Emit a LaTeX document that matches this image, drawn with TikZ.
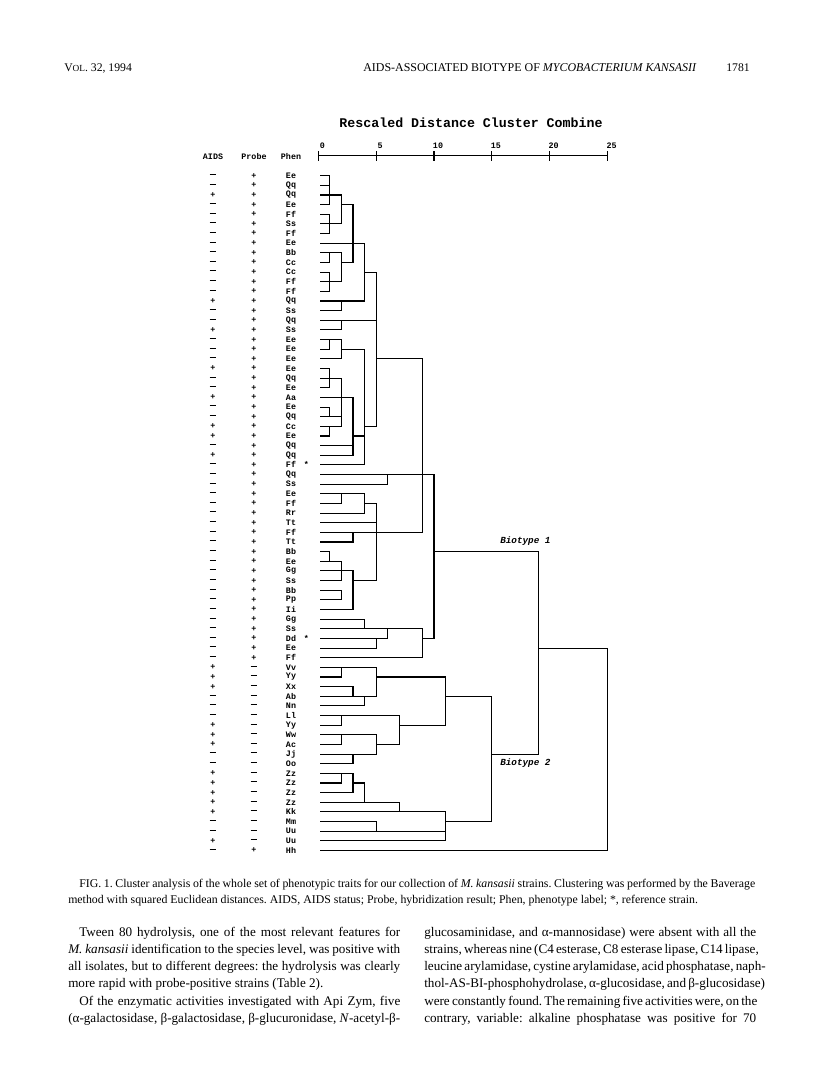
\documentclass[tikz,border=0pt]{standalone}
\usepackage{fontspec}
\setmainfont{Liberation Serif}
\newfontfamily\cour{Liberation Mono}
\usetikzlibrary{positioning}
\frenchspacing

% row and scale positions (picture units are pixels of the page)
\newcommand{\RY}[1]{(175.7+9.64*((#1)-1))}
\newcommand{\UX}[1]{(318.3+11.57*(#1))}
\newcommand{\mn}{\rule[1.7pt]{5.2pt}{0.75pt}}
\newcommand{\sg}[1]{\if#1m\mn\else+\fi}

\begin{document}
\begin{tikzpicture}[x=0.75bp, y=-0.75bp,
		tree/.style={line width=0.8pt, line cap=rect},
		rowtxt/.style={font=\cour\bfseries\fontsize{6.3}{7}\selectfont, inner sep=0pt},
		headtxt/.style={font=\cour\bfseries\fontsize{6.3}{7}\selectfont, inner sep=0pt},
		titletxt/.style={font=\cour\bfseries\fontsize{10}{12}\selectfont, inner sep=0pt},
		biotxt/.style={font=\cour\bfseries\itshape\fontsize{7}{8}\selectfont, inner sep=0pt, anchor=west},
		bodytxt/.style={font=\fontsize{9.9}{12}\selectfont, inner sep=0pt, anchor=base west},
		captxt/.style={font=\fontsize{8.9}{10}\selectfont, inner sep=0pt, anchor=base west}
		]
		\useasboundingbox[fill=white] (0,0) rectangle (816,1087);
		% Running head
		\node[bodytxt, font=\fontsize{8.8}{10}\selectfont] (volno) at (64,72) {V{\fontsize{7}{8}\selectfont OL}. 32, 1994};
		\node[bodytxt, font=\fontsize{9}{10}\selectfont] (runhead) at (363,72) {AIDS-ASSOCIATED BIOTYPE OF \textit{MYCOBACTERIUM KANSASII}};
		\node[bodytxt, font=\fontsize{8.8}{10}\selectfont, anchor=base east] (pageno) at (750,72) {1781};
		% Title and scale
		\node[titletxt] (title) at (471,123) {Rescaled Distance Cluster Combine};
		\draw[tree] ({\UX{0}},155.7) -- ({\UX{25}},155.7);
		\foreach \t in {0,5,...,25} {
			\draw[tree] ({\UX{\t}},151.5) -- ({\UX{\t}},160);
			\node[headtxt] (tick\t) at ({\UX{\t}+4},146) {\t};
		}
		\node[headtxt] (haids) at (213,157) {AIDS};
		\node[headtxt] (hprobe) at (254,157) {Probe};
		\node[headtxt] (hphen) at (291,157) {Phen};
		% Rows: AIDS / Probe / Phen
		\foreach \r/\a/\p/\ph in {1/m/p/Ee, 2/m/p/Qq, 3/p/p/Qq, 4/m/p/Ee, 5/m/p/Ff, 6/m/p/Ss, 7/m/p/Ff,
			8/m/p/Ee, 9/m/p/Bb, 10/m/p/Cc, 11/m/p/Cc, 12/m/p/Ff, 13/m/p/Ff, 14/p/p/Qq, 15/m/p/Ss,
			16/m/p/Qq, 17/p/p/Ss, 18/m/p/Ee, 19/m/p/Ee, 20/m/p/Ee, 21/p/p/Ee, 22/m/p/Qq, 23/m/p/Ee,
			24/p/p/Aa, 25/m/p/Ee, 26/m/p/Qq, 27/p/p/Cc, 28/p/p/Ee, 29/m/p/Qq, 30/p/p/Qq, 31/m/p/Ff,
			32/m/p/Qq, 33/m/p/Ss, 34/m/p/Ee, 35/m/p/Ff, 36/m/p/Rr, 37/m/p/Tt, 38/m/p/Ff, 39/m/p/Tt,
			40/m/p/Bb, 41/m/p/Ee, 42/m/p/Gg, 43/m/p/Ss, 44/m/p/Bb, 45/m/p/Pp, 46/m/p/Ii, 47/m/p/Gg,
			48/m/p/Ss, 49/m/p/Dd, 50/m/p/Ee, 51/m/p/Ff, 52/p/m/Vv, 53/p/m/Yy, 54/p/m/Xx, 55/m/m/Ab,
			56/m/m/Nn, 57/m/m/Ll, 58/p/m/Yy, 59/p/m/Ww, 60/p/m/Ac, 61/m/m/Jj, 62/m/m/Oo, 63/p/m/Zz,
			64/p/m/Zz, 65/p/m/Zz, 66/p/m/Zz, 67/p/m/Kk, 68/m/m/Mm, 69/m/m/Uu, 70/p/m/Uu, 71/m/p/Hh} {
			\node[rowtxt] (aids\r) at (213,{\RY{\r}}) {\sg{\a}};
			\node[rowtxt] (probe\r) at (254,{\RY{\r}}) {\sg{\p}};
			\node[rowtxt] (phen\r) at (291,{\RY{\r}}) {\ph};
		}
		% Reference strains
		\node[rowtxt] (ref31) at (306.5,{\RY{31}}) {*};
		\node[rowtxt] (ref49) at (306.5,{\RY{49}}) {*};
		% Leaves: row / unit where the line ends
		\foreach \r/\e in {1/1, 2/1, 3/2, 4/1, 5/1, 6/2, 7/1, 8/4, 9/2, 10/1, 11/1, 12/2, 13/1,
			14/4, 15/2, 16/5, 17/2, 18/2, 19/1, 20/2, 21/1, 22/2, 23/1, 24/3, 25/1, 26/2, 27/2,
			28/1, 29/3, 30/3, 31/4, 32/10, 33/6, 34/4, 35/2, 36/4, 37/5, 38/9, 39/3, 40/1, 41/2,
			42/3, 43/2, 44/2, 45/2, 46/3, 47/4, 48/9, 49/6, 50/5, 51/9, 52/5, 53/2, 54/3, 55/5,
			56/4, 57/7, 58/2, 59/5, 60/2, 61/5, 62/3, 63/3, 64/2, 65/3, 66/4, 67/7, 68/5, 69/11,
			70/11, 71/25} {
			\draw[tree] (321,{\RY{\r}}) -- ({\UX{\e}},{\RY{\r}});
		}
		% Merged clusters carried on to the next level
		\foreach \r/\f/\t in {4/2/3, 10/2/3, 11/4/5, 19/2/4, 20/5/9, 27/4/5, 28/3/4, 35/4/5,
			40/10/19, 43/3/5, 49/9/10, 50/19/25, 53/5/11, 55/11/15, 58/7/11, 60/5/7, 61/15/19,
			64/3/4, 66/4/7, 67/7/11, 68/11/15} {
			\draw[tree] ({\UX{\f}},{\RY{\r}}) -- ({\UX{\t}},{\RY{\r}});
		}
		% Joins: unit / first row / last row
		\foreach \u/\a/\b in {1/1/4, 1/5/7, 2/3/6, 1/9/10, 1/11/13, 2/9/12, 3/4/10, 2/14/15,
			4/8/14, 2/16/17, 1/18/19, 2/18/20, 1/21/23, 1/25/26, 1/27/28, 2/22/27, 3/24/30,
			4/19/31, 5/11/27, 9/20/38, 6/32/33, 2/34/35, 4/34/36, 5/35/43, 3/38/39, 1/40/41,
			2/41/43, 3/42/46, 2/44/45, 4/47/48, 5/49/50, 6/48/49, 9/48/51, 10/32/49, 19/40/61,
			25/50/71, 2/52/53, 3/54/55, 4/55/56, 5/52/55, 11/53/58, 2/57/58, 2/59/60, 3/61/62,
			5/59/61, 7/57/60, 15/55/68, 2/63/64, 3/63/65, 4/64/66, 7/66/67, 5/68/69, 11/67/70} {
			\draw[tree] ({\UX{\u}},{\RY{\a}}) -- ({\UX{\u}},{\RY{\b}});
		}
		\node[biotxt] (bio1) at (500,541) {Biotype 1};
		\node[biotxt] (bio2) at (500,763) {Biotype 2};
		% Caption
		\node[captxt] (cap1) at (79,887) {\makebox[507bp][s]{FIG. 1. Cluster analysis of the whole set of phenotypic traits for our collection of \textit{M. kansasii} strains. Clustering was performed by the Baverage}};
		\node[captxt] (cap2) at (68,903) {method with squared Euclidean distances. AIDS, AIDS status; Probe, hybridization result; Phen, phenotype label; *, reference strain.};
		% Body text, left column
		\node[bodytxt] (la) at (79,936) {\makebox[240.8bp][s]{Tween 80 hydrolysis, one of the most relevant features for}};
		\node[bodytxt] (lb) at (68,953) {\makebox[249bp][s]{\textit{M. kansasii} identification to the species level, was positive with}};
		\node[bodytxt] (lc) at (68,970) {\makebox[249bp][s]{all isolates, but to different degrees: the hydrolysis was clearly}};
		\node[bodytxt] (ld) at (68,987) {more rapid with probe-positive strains (Table 2).};
		\node[bodytxt] (le) at (79,1005) {\makebox[240.8bp][s]{Of the enzymatic activities investigated with Api Zym, five}};
		\node[bodytxt] (lf) at (68,1022) {\makebox[249bp][s]{(α-galactosidase, β-galactosidase, β-glucuronidase, \textit{N}-acetyl-β-}};
		% Body text, right column
		\node[bodytxt] (ra) at (424,936) {\makebox[249bp][s]{glucosaminidase, and α-mannosidase) were absent with all the}};
		\node[bodytxt] (rb) at (424,953) {\makebox[249bp][s]{strains, whereas nine (C4 esterase, C8 esterase lipase, C14 lipase,}};
		\node[bodytxt] (rc) at (424,970) {\makebox[249bp][s]{leucine arylamidase, cystine arylamidase, acid phosphatase, naph-}};
		\node[bodytxt] (rd) at (424,987) {\makebox[249bp][s]{thol-AS-BI-phosphohydrolase, α-glucosidase, and β-glucosidase)}};
		\node[bodytxt] (re) at (424,1005) {\makebox[249bp][s]{were constantly found. The remaining five activities were, on the}};
		\node[bodytxt] (rf) at (424,1022) {\makebox[249bp][s]{contrary, variable: alkaline phosphatase was positive for 70}};
	\end{tikzpicture}
\end{document}
